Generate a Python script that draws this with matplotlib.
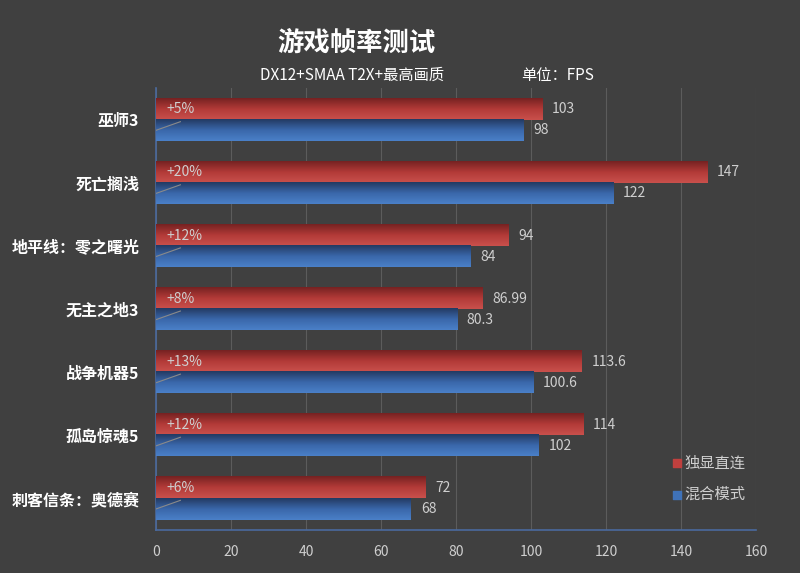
import numpy as np
import matplotlib.pyplot as plt
from matplotlib.colors import LinearSegmentedColormap

plt.rcParams['font.family'] = ['Noto Sans CJK SC', 'DejaVu Sans']

games = ['巫师3', '死亡搁浅', '地平线：零之曙光', '无主之地3', '战争机器5', '孤岛惊魂5', '刺客信条：奥德赛']
dgpu = [103, 147, 94, 86.99, 113.6, 114, 72]
hybrid = [98, 122, 84, 80.3, 100.6, 102, 68]
gain = ['+5%', '+20%', '+12%', '+8%', '+13%', '+12%', '+6%']
dgpu_txt = ['103', '147', '94', '86.99', '113.6', '114', '72']
hybrid_txt = ['98', '122', '84', '80.3', '100.6', '102', '68']

bg = '#404040'
txt = '#cfcfcf'
red_cm = LinearSegmentedColormap.from_list('r', ['#762222', '#b23a38', '#c9504c'])
blue_cm = LinearSegmentedColormap.from_list('b', ['#233a62', '#3a67aa', '#4a80c8'])
grad = np.linspace(0, 1, 64).reshape(-1, 1)

fig = plt.figure(figsize=(8, 5.73), dpi=100, facecolor=bg)
ax = fig.add_axes([0.195, 0.075, 0.75, 0.771])
ax.set_facecolor(bg)

n = len(games)
h = 1 / 3
for i in range(n):
    c = n - 1 - i
    # red bar on top, blue below
    ax.imshow(grad, cmap=red_cm, extent=(0, dgpu[i], c, c + h), origin='upper',
              aspect='auto', zorder=3)
    ax.imshow(grad, cmap=blue_cm, extent=(0, hybrid[i], c - h, c), origin='upper',
              aspect='auto', zorder=3)
    ax.text(dgpu[i] + 2.6, c + h / 2, dgpu_txt[i], color=txt, fontsize=10,
            va='center', ha='left', zorder=4)
    ax.text(hybrid[i] + 2.6, c - h / 2, hybrid_txt[i], color=txt, fontsize=10,
            va='center', ha='left', zorder=4)
    ax.text(2.7, c + h / 2, gain[i], color=txt, fontsize=10, va='center', ha='left', zorder=4)
    ax.plot([0, 6.5], [c - h / 2, c - 0.03], color='#8a8a8a', lw=0.8, zorder=4)

ax.set_xlim(0, 160)
ax.set_ylim(-0.5, n - 0.5)
ax.set_xticks(range(0, 161, 20))
ax.set_yticks([n - 1 - i for i in range(n)])
ax.set_yticklabels(games, color='white', fontsize=11.5, fontweight='bold')
ax.tick_params(axis='x', colors=txt, labelsize=10, length=0, pad=11)
ax.tick_params(axis='y', length=0, pad=12)
ax.grid(axis='x', color='#5c5c5c', lw=0.8, zorder=0)
ax.set_axisbelow(True)
for s in ['top', 'right']:
    ax.spines[s].set_visible(False)
for s in ['left', 'bottom']:
    ax.spines[s].set_color('#4a6a9e')
    ax.spines[s].set_linewidth(1.2)

# legend
ax.scatter([], [], marker='s', s=26, color='#c0403e', label='独显直连')
ax.scatter([], [], marker='s', s=26, color='#3f72b8', label='混合模式')
leg = ax.legend(loc='lower right', bbox_to_anchor=(1.005, 0.03), frameon=False,
                handletextpad=0.0, labelspacing=0.95, fontsize=11, handlelength=1.0)
for t in leg.get_texts():
    t.set_color(txt)

fig.text(0.446, 0.925, '游戏帧率测试', color='white', fontsize=19, fontweight='bold',
         ha='center', va='center')
fig.text(0.44, 0.868, 'DX12+SMAA T2X+最高画质', color='white', fontsize=11,
         ha='center', va='center')
fig.text(0.697, 0.868, '单位：FPS', color='white', fontsize=11, ha='center', va='center')

fig.savefig('out.png', dpi=100, facecolor=bg)
